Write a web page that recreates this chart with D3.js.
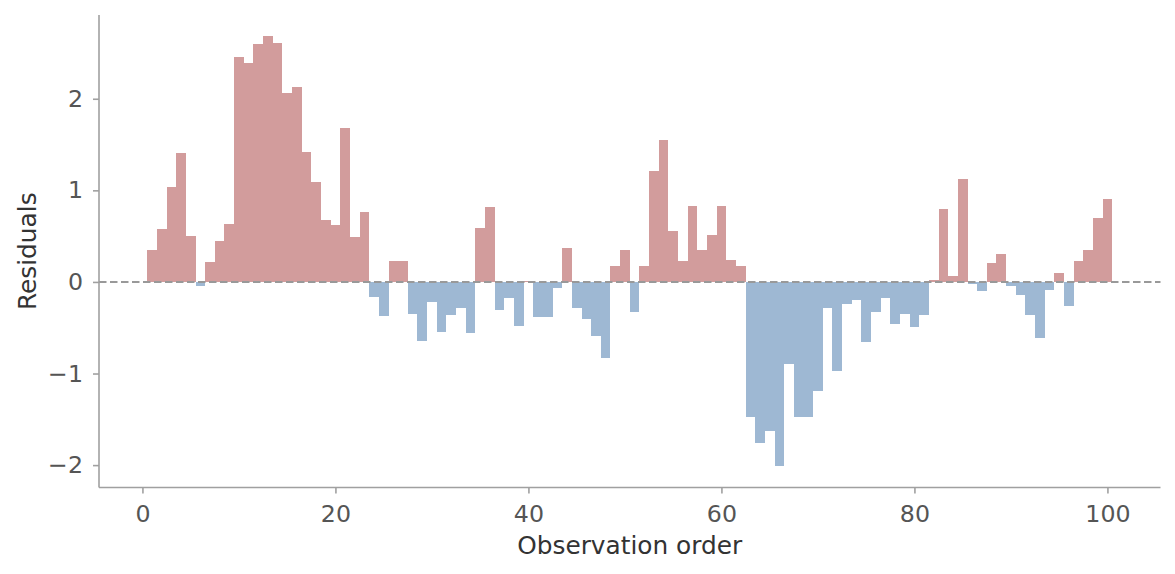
<!DOCTYPE html>
<html>
<head>
<meta charset="utf-8">
<script src="https://cdn.jsdelivr.net/npm/d3@7"></script>
<style>
  html, body { margin: 0; padding: 0; background: #ffffff; }
  svg { display: block; font-family: "DejaVu Sans", sans-serif; }
</style>
</head>
<body>
<svg id="chart" width="1175" height="574"></svg>
<script>
// Observation order 1..100
const observations = d3.range(1, 101);
// Residual values
const residuals = [
  0.35, 0.58, 1.04, 1.41, 0.50, -0.04, 0.22, 0.45, 0.63, 2.46,
  2.39, 2.60, 2.68, 2.61, 2.06, 2.13, 1.42, 1.09, 0.68, 0.62,
  1.68, 0.49, 0.76, -0.16, -0.37, 0.23, 0.23, -0.35, -0.65, -0.22,
  -0.55, -0.36, -0.28, -0.56, 0.59, 0.82, -0.31, -0.17, -0.48, 0.01,
  -0.38, -0.38, -0.07, 0.37, -0.28, -0.41, -0.59, -0.83, 0.17, 0.35,
  -0.33, 0.17, 1.21, 1.55, 0.56, 0.23, 0.83, 0.35, 0.51, 0.83,
  0.24, 0.17, -1.48, -1.76, -1.63, -2.01, -0.90, -1.47, -1.47, -1.19,
  -0.29, -0.97, -0.24, -0.20, -0.66, -0.33, -0.18, -0.46, -0.35, -0.49,
  -0.36, 0.02, 0.80, 0.06, 1.12, -0.02, -0.10, 0.21, 0.31, -0.04,
  -0.14, -0.36, -0.61, -0.09, 0.10, -0.26, 0.23, 0.35, 0.70, 0.91
];
const xTicks = [0, 20, 40, 60, 80, 100];
const yTicks = [-2, -1, 0, 1, 2];
const xLabel = "Observation order";
const yLabel = "Residuals";

const posColor = "#d29c9c";
const negColor = "#9eb8d3";

const svg = d3.select("#chart");
const W = 1175, H = 574;
const margin = { left: 99, right: W - 1160.5, top: 15, bottom: H - 487.5 };

// matplotlib-like 5% margins around data extent
const xMin = 0.5, xMax = 100.5;
const xPad = (xMax - xMin) * 0.05;
const yLo = d3.min(residuals), yHi = d3.max(residuals);
const yPad = (yHi - yLo) * 0.05;

const x = d3.scaleLinear().domain([xMin - xPad, xMax + xPad]).range([margin.left, W - margin.right]);
const y = d3.scaleLinear().domain([Math.min(0, yLo) - yPad, yHi + yPad]).range([H - margin.bottom, margin.top]);

const data = observations.map((o, i) => ({ o, v: residuals[i] }));

// bars
svg.append("g")
  .attr("shape-rendering", "crispEdges")
  .selectAll("rect")
  .data(data)
  .join("rect")
  .attr("x", d => x(d.o - 0.5))
  .attr("width", d => x(d.o + 0.5) - x(d.o - 0.5))
  .attr("y", d => Math.min(y(d.v), y(0)))
  .attr("height", d => Math.abs(y(d.v) - y(0)))
  .attr("fill", d => d.v >= 0 ? posColor : negColor);

// zero dashed line
svg.append("line")
  .attr("x1", x.range()[0]).attr("x2", x.range()[1])
  .attr("y1", y(0)).attr("y2", y(0))
  .attr("stroke", "#999999")
  .attr("stroke-width", 2)
  .attr("stroke-dasharray", "7.5,3.5");

const axisColor = "#a0a0a0";
const textColor = "#555555";
const tickFont = 23.7;
const labelFont = 24.8;

// x axis
const gx = svg.append("g")
  .attr("transform", `translate(0,${y.range()[0]})`)
  .call(d3.axisBottom(x).tickValues(xTicks).tickSize(6).tickPadding(11.5).tickFormat(d3.format("d")));
gx.select(".domain").attr("stroke", axisColor).attr("stroke-width", 1.6).attr("d", `M${x.range()[0]},0H${x.range()[1]}`);
gx.selectAll(".tick line").attr("stroke", axisColor).attr("stroke-width", 1.6);
gx.selectAll(".tick text").attr("fill", textColor).attr("font-size", tickFont).attr("font-family", "DejaVu Sans");

// y axis
const gy = svg.append("g")
  .attr("transform", `translate(${x.range()[0]},0)`)
  .call(d3.axisLeft(y).tickValues(yTicks).tickSize(6).tickPadding(10)
    .tickFormat(d => d < 0 ? "\u2212" + Math.abs(d) : String(d)));
gy.select(".domain").attr("stroke", axisColor).attr("stroke-width", 1.6).attr("d", `M0,${y.range()[0]}V${y.range()[1]}`);
gy.selectAll(".tick line").attr("stroke", axisColor).attr("stroke-width", 1.6);
gy.selectAll(".tick text").attr("fill", textColor).attr("font-size", tickFont).attr("font-family", "DejaVu Sans");

// axis labels
svg.append("text")
  .attr("x", (x.range()[0] + x.range()[1]) / 2)
  .attr("y", 554.3)
  .attr("text-anchor", "middle")
  .attr("fill", "#333333")
  .attr("font-size", labelFont)
  .text(xLabel);

svg.append("text")
  .attr("transform", `translate(36,${(y.range()[0] + y.range()[1]) / 2}) rotate(-90)`)
  .attr("text-anchor", "middle")
  .attr("fill", "#333333")
  .attr("font-size", labelFont)
  .text(yLabel);
</script>
</body>
</html>
